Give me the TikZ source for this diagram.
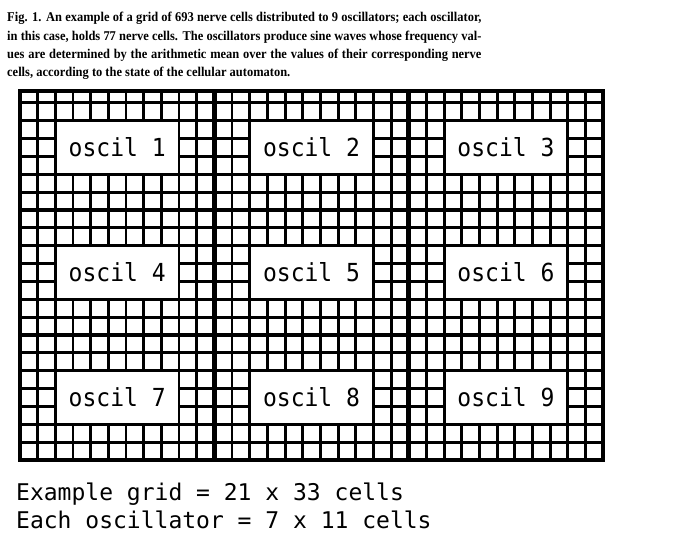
\documentclass[tikz,border=0pt]{standalone}
\usepackage{fontspec}
\setmainfont{Liberation Serif}
\newfontfamily\monofam{DejaVu Sans Mono}
\begin{document}
\begin{tikzpicture}[x=1pt,y=-1pt,
  thinline/.style={line width=2.9pt,black},
  thickline/.style={line width=4.8pt,black},
  oscbox/.style={fill=white,draw=none,inner sep=0pt,minimum width=120.7pt,minimum height=50.6pt,font=\monofam\fontsize{23}{23}\selectfont},
  captext/.style={inner sep=0pt,anchor=base west},
  sumtext/.style={inner sep=0pt,anchor=base west,font=\monofam\fontsize{23}{23}\selectfont}]
\useasboundingbox (0,0) rectangle (673,560);
\fill[white] (0,0) rectangle (673,560);
% caption
\node[captext] (cap) at (7,21.7) {\scalebox{0.93}[1]{\parbox[t]{510pt}{\fontsize{13.4}{18.3}\selectfont\bfseries
Fig. 1. An example of a grid of 693 nerve cells distributed to 9 oscillators; each oscillator, in this case, holds 77 nerve cells. The oscillators produce sine waves whose frequency val-\linebreak ues are determined by the arithmetic mean over the values of their corresponding nerve\linebreak cells, according to the state of the cellular automaton.}}};
% grid: thin lines
\foreach \i in {1,...,32} {
  \draw[thinline] ({20+17.67*\i},91) -- ({20+17.67*\i},460);
}
\foreach \j in {1,...,20} {
  \draw[thinline] (20,{85+17.86*\j}) -- (603,{85+17.86*\j});
}
% thick lines
\foreach \i in {11,22} {
  \draw[thickline] ({20+17.67*\i},91) -- ({20+17.67*\i},460);
}
\foreach \j in {7,14} {
  \draw[thickline] (20,{85+17.86*\j}) -- (603,{85+17.86*\j});
}
\draw[thickline] (20,91) rectangle (603,460);
% oscillator labels
\foreach \r in {0,1,2} {
  \foreach \c in {0,1,2} {
    \pgfmathtruncatemacro{\n}{3*\r+\c+1}
    \node[oscbox] (osc\n) at ({20+17.67*(11*\c+5.5)},{85+17.86*(7*\r+3.5)}) {\scalebox{1}[1.08]{oscil \n}};
  }
}
% summary text
\node[sumtext] (sum1) at (16,500) {Example grid = 21 x 33 cells};
\node[sumtext] (sum2) at (16,528.3) {Each oscillator = 7 x 11 cells};
\end{tikzpicture}
\end{document}
